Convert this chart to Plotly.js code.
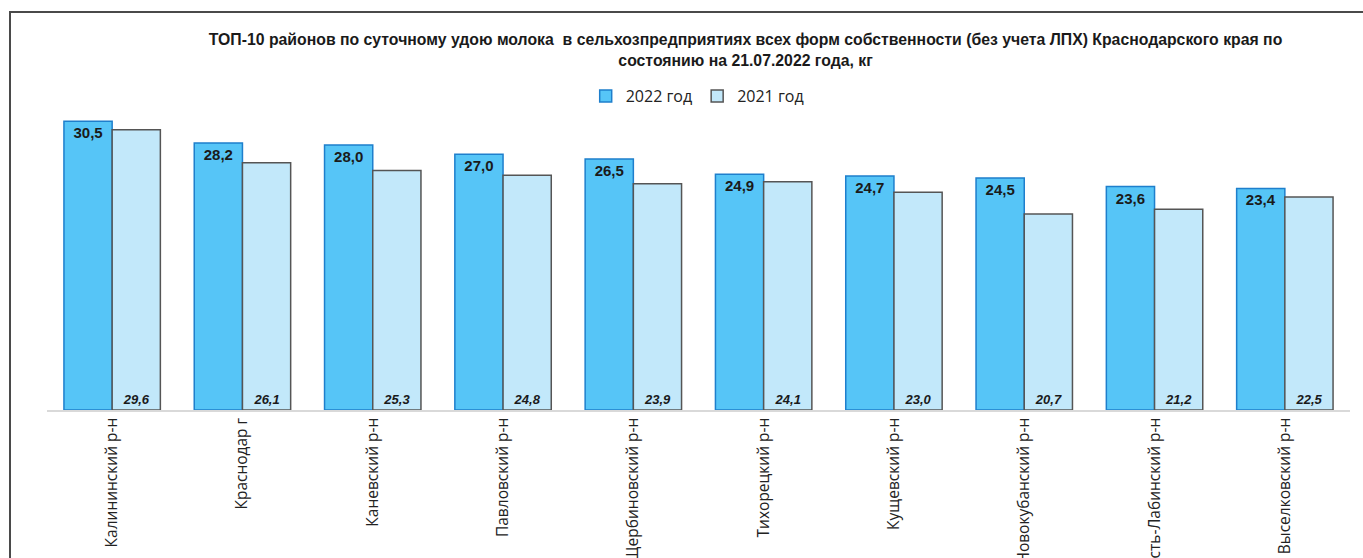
<!DOCTYPE html>
<html><head><meta charset="utf-8">
<script src="https://cdn.plot.ly/plotly-3.0.1.min.js"></script>
<style>
html,body{margin:0;padding:0;background:#fff;overflow:hidden}
#wrap{position:relative;width:1363px;height:558px}
#frame{position:absolute;left:9px;top:11px;width:1360px;height:560px;border-left:2px solid #4a4a4a;border-top:2px solid #4a4a4a;pointer-events:none}
#chart{position:absolute;left:0;top:0;width:1363px;height:558px}
</style></head>
<body><div id="wrap"><div id="chart"></div><div id="frame"></div></div>
<script>
const categories = ["Калининский р-н","Краснодар г","Каневский р-н","Павловский р-н","Щербиновский р-н","Тихорецкий р-н","Кущевский р-н","Новокубанский р-н","Усть-Лабинский р-н","Выселковский р-н"];
const values2022 = [30.5,28.2,28.0,27.0,26.5,24.9,24.7,24.5,23.6,23.4];
const values2021 = [29.6,26.1,25.3,24.8,23.9,24.1,23.0,20.7,21.2,22.5];
const seriesNames = ["2022 год","2021 год"];
const titleText = "ТОП-10 районов по суточному удою молока  в сельхозпредприятиях всех форм собственности (без учета ЛПХ) Краснодарского края по<br>состоянию на 21.07.2022 года, кг";

const traces = [
 {type:'bar', name:seriesNames[0], x:categories, y:values2022,
  marker:{color:'#56C5F7', line:{color:'#1E7FCC', width:1.5}},
  texttemplate:'%{y:.1f}', textposition:'inside', insidetextanchor:'end', constraintext:'none',
  textfont:{family:'Liberation Sans, Arial, sans-serif', size:15, color:'#1a1a1a', weight:'bold'}, textangle:0, hoverinfo:'none'},
 {type:'bar', name:seriesNames[1], x:categories, y:values2021,
  marker:{color:'#C2E8FA', line:{color:'#555555', width:1.5}},
  texttemplate:'<b><i>%{y:.1f}</i></b>', textposition:'inside', insidetextanchor:'start', constraintext:'none',
  textfont:{family:'Liberation Sans, Arial, sans-serif', size:13, color:'#1a1a1a'}, textangle:0, hoverinfo:'none'}
];
const layout = {
 width:1363, height:558, separators:', ',
 paper_bgcolor:'#ffffff', plot_bgcolor:'#ffffff',
 margin:{l:47, r:13, t:107, b:148},
 barmode:'group', bargap:0.26, bargroupgap:0.0,
 title:{text:titleText, x:0.547, xanchor:'center', y:0.919, yanchor:'top',
   font:{family:'Liberation Sans, Arial, sans-serif', size:15.8, color:'#1a1a1a', weight:'bold'}},
 showlegend:true,
 legend:{orientation:'h', x:0.499, xanchor:'center', y:1.0356, yanchor:'middle',
   font:{family:'Open Sans, sans-serif', size:16, color:'#222'}, itemwidth:30, traceorder:'normal'},
 xaxis:{type:'category', tickangle:-90, showline:true, linecolor:'#d9d9d9', linewidth:1.5, ticks:'',
   tickfont:{family:'Open Sans, sans-serif', size:15.5, color:'#222'}, showgrid:false, automargin:false},
 yaxis:{range:[0,32], visible:false, showgrid:false, zeroline:false}
};
Plotly.newPlot('chart', traces, layout, {displayModeBar:false, staticPlot:true});
</script></body></html>
